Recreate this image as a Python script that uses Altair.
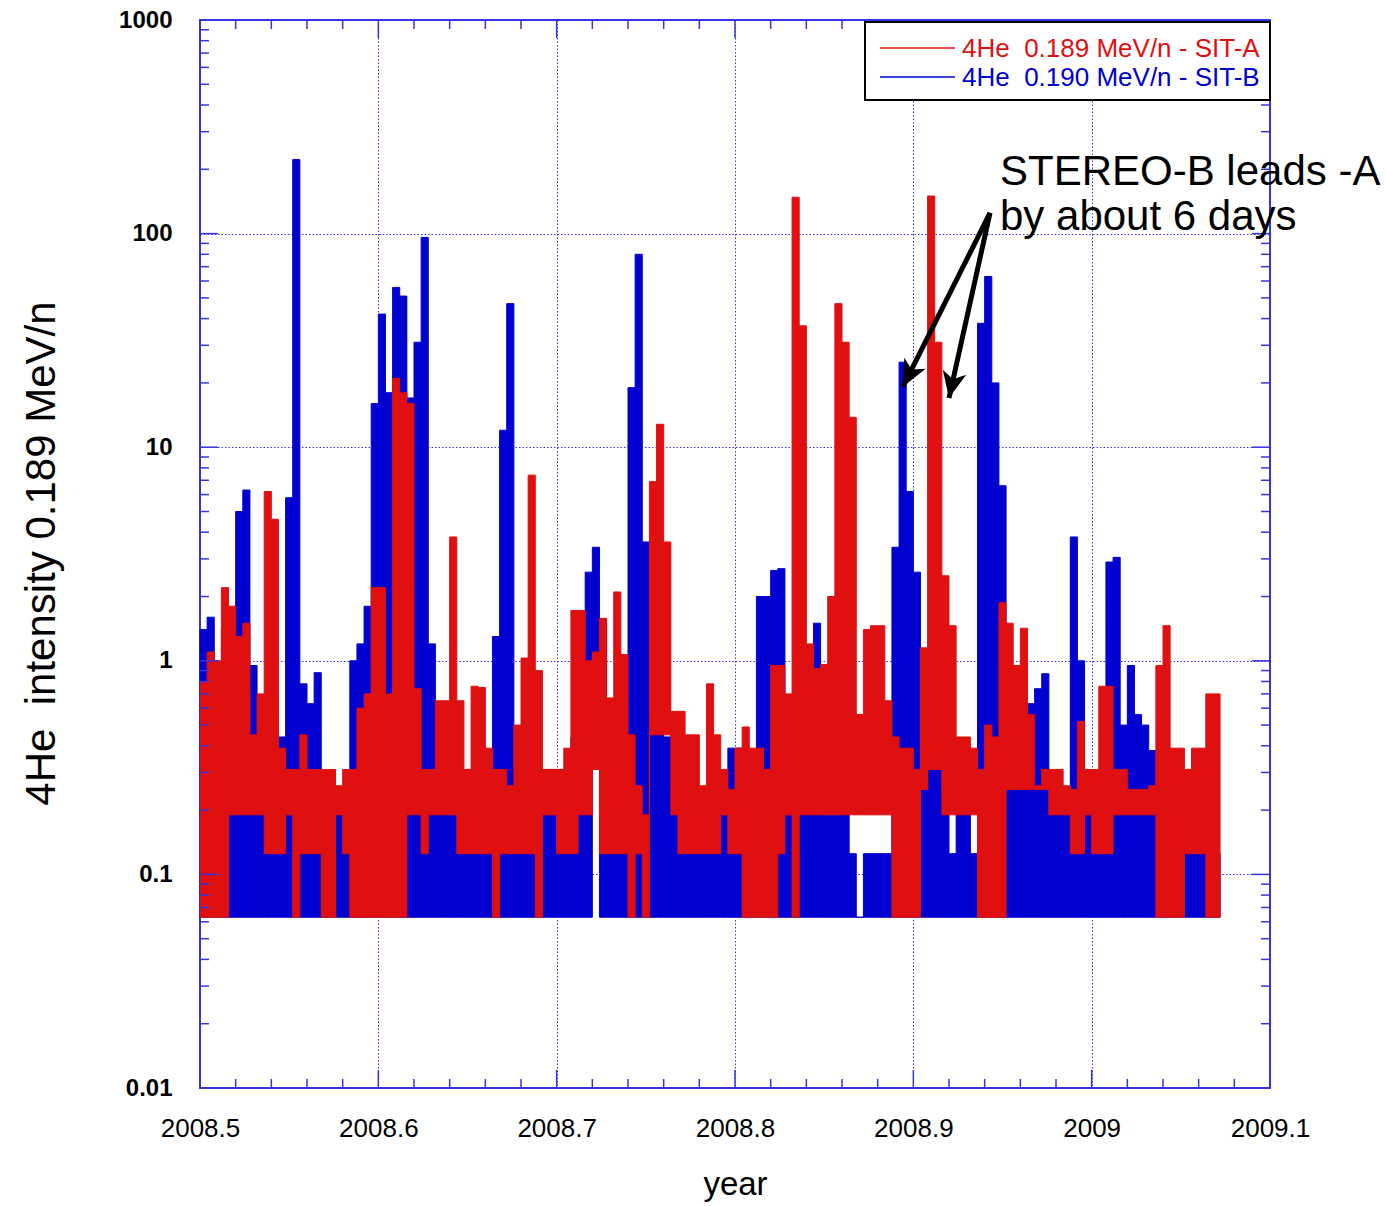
import altair as alt
import pandas as pd

# Sample bins: 0.004 yr each, starting at 2008.5
T0 = 2008.5
STEP = 0.004

# SIT-B 4He 0.190 MeV/n: upper / lower envelope per bin
sitb_hi = [
    1.4, 1.6, 0.95, 1.4, 1.1, 5.0, 6.3, 0.95, 0.63, 0.63,
    0.55, 0.44, 5.8, 222, 0.78, 0.63, 0.88, 0.19, 0.25, 0.19,
    0.19, 1.0, 1.2, 1.8, 16, 42, 18, 56, 51, 17,
    31, 96, 1.2, 0.31, 0.31, 0.19, 0.25, 0.31, 0.25, 0.25,
    0.19, 1.3, 12, 47, 0.31, 0.25, 0.19, 0.25, 0.31, 0.31,
    0.31, 0.26, 0.44, 0.78, 2.6, 3.4, 1.5, 0.26, 0.26, 0.26,
    19, 80, 3.6, 0.6, 0.5, 0.44, 0.5, 0.3, 0.19, 0.19,
    0.125, 0.25, 0.19, 0.19, 0.39, 0.39, 0.25, 0.31, 2.0, 2.0,
    2.65, 2.7, 0.31, 0.25, 0.31, 0.56, 1.5, 0.19, 0.19, 0.19,
    0.38, 0.125, 0.063, 0.125, 0.125, 0.125, 0.125, 3.4, 25, 6.2,
    2.6, 0.87, 0.31, 0.31, 0.25, 0.125, 0.25, 0.25, 0.125, 38,
    63, 20, 6.6, 0.7, 0.31, 0.31, 0.63, 0.74, 0.87, 0.26,
    0.25, 0.25, 3.8, 1.0, 0.25, 0.25, 0.125, 2.9, 3.05, 0.5,
    0.95, 0.56, 0.5, 0.38, 0.19, 0.25, 0.19, 0.19, 0.125, 0.125,
    0.125, 0.125, 0.125,
]
sitb_lo = [0.063] * 55 + [0.31] + [0.063] * 87

# SIT-A 4He 0.189 MeV/n: upper / lower envelope per bin
sita_hi = [
    0.8, 1.1, 1.0, 2.2, 1.8, 1.3, 1.5, 0.45, 0.7, 6.2,
    4.6, 0.39, 0.31, 0.31, 0.45, 0.31, 0.31, 0.31, 0.31, 0.26,
    0.31, 0.31, 0.6, 0.7, 2.2, 2.2, 0.7, 21, 18, 16,
    0.74, 0.31, 0.31, 0.65, 0.65, 3.8, 0.65, 0.31, 0.76, 0.75,
    0.39, 0.31, 0.31, 0.26, 0.5, 1.03, 7.4, 0.9, 0.31, 0.31,
    0.31, 0.39, 1.72, 1.72, 1.0, 1.1, 1.58, 0.67, 2.1, 1.07,
    0.45, 0.26, 0.19, 6.9, 12.8, 3.6, 0.58, 0.58, 0.45, 0.45,
    0.26, 0.78, 0.45, 0.31, 0.25, 0.39, 0.49, 0.39, 0.39, 0.31,
    0.95, 0.95, 0.7, 148, 37, 1.2, 0.92, 0.96, 2.0, 47,
    31, 13.8, 0.56, 1.4, 1.46, 1.46, 0.65, 0.44, 0.39, 0.39,
    0.31, 1.15, 150, 31, 2.5, 1.46, 0.44, 0.44, 0.39, 0.31,
    0.5, 0.44, 1.87, 1.5, 0.95, 1.42, 0.56, 0.26, 0.31, 0.31,
    0.31, 0.26, 0.25, 0.52, 0.31, 0.31, 0.76, 0.76, 0.31, 0.31,
    0.25, 0.25, 0.25, 0.26, 0.95, 1.46, 0.39, 0.39, 0.31, 0.39,
    0.39, 0.7, 0.7,
]
sita_lo = [
    .063, .063, .063, .063, .19, .19, .19, .19, .19, .125,
    .125, .125, .19, .063, .125, .125, .125, .063, .063, .19,
    .125, .063, .063, .063, .063, .063, .063, .063, .063, .19,
    .19, .125, .19, .19, .19, .19, .125, .125, .125, .125,
    .125, .063, .125, .125, .125, .125, .125, .063, .19, .19,
    .125, .125, .125, .19, .19, .31, .125, .125, .125, .125,
    .063, .125, .063, .45, .45, .45, .19, .125, .125, .125,
    .125, .125, .125, .19, .125, .125, .063, .063, .063, .063,
    .063, .125, .19, .063, .19, .19, .19, .19, .19, .19,
    .19, .19, .19, .19, .19, .19, .19, .063, .063, .063,
    .063, .25, .31, .31, .19, .19, .19, .19, .19, .063,
    .063, .063, .063, .25, .25, .25, .25, .25, .25, .19,
    .19, .19, .125, .125, .19, .125, .125, .125, .19, .19,
    .19, .19, .19, .19, .063, .063, .063, .063, .125, .125,
    .125, .063, .063,
]

legend_labels = ["4He\u00a0 0.189 MeV/n - SIT-A", "4He\u00a0 0.190 MeV/n - SIT-B"]
note_lines = ["STEREO-B leads -A", "by about 6 days"]

RED = "#e01010"
BLUE = "#0000d0"
FRAME = "#3535e0"
FONT = "Liberation Sans"
W, H = 1070, 1068


def series_frame(hi, lo):
    n = len(hi)
    t = [T0 + STEP * k for k in range(n + 1)]
    return pd.DataFrame({"t": t, "hi": hi + [hi[-1]], "lo": lo + [lo[-1]]})


df_b = series_frame(sitb_hi, sitb_lo)
df_a = series_frame(sita_hi, sita_lo)

xscale = alt.Scale(domain=[2008.5, 2009.1], nice=False, zero=False)
yscale = alt.Scale(type="log", domain=[0.01, 1000], nice=False)

xaxis = alt.Axis(
    values=[2008.5, 2008.6, 2008.7, 2008.8, 2008.9, 2009.0, 2009.1],
    format="~f", title="year", grid=True, gridColor=FRAME, gridDash=[1.5, 2],
    gridWidth=1, ticks=False, domain=False, labelFont=FONT, labelFontSize=26,
    labelColor="black", labelPadding=27, labelFlush=False, labelOverlap=False,
    titleFont=FONT, titleFontSize=33, titleFontWeight="normal", titleColor="black",
    titleX=535, titleY=106, titleBaseline="alphabetic",
)
yaxis = alt.Axis(
    values=[0.01, 0.1, 1, 10, 100, 1000], format="~g",
    title="4He\u00a0 intensity 0.189 MeV/n", grid=True, gridColor=FRAME,
    gridDash=[1.5, 2], gridWidth=1, ticks=False, domain=False, labelFont=FONT,
    labelFontSize=24, labelFontWeight="bold", labelColor="black", labelPadding=28,
    labelFlush=False, labelOverlap=False, titleFont=FONT, titleFontSize=42,
    titleFontWeight="normal", titleColor="black", titleX=-146, titleY=533,
    titleBaseline="alphabetic",
)


def X(field):
    return alt.X(field, scale=xscale, axis=xaxis)


def Y(field):
    return alt.Y(field, scale=yscale, axis=yaxis)


blue = alt.Chart(df_b).mark_area(
    interpolate="step-after", color=BLUE, stroke=BLUE, strokeWidth=1
).encode(x=X("t:Q"), y=Y("hi:Q"), y2="lo:Q")
red = alt.Chart(df_a).mark_area(
    interpolate="step-after", color=RED, stroke=RED, strokeWidth=1
).encode(x=X("t:Q"), y=Y("hi:Q"), y2="lo:Q")

# Inward tick marks on all four sides
xt_major = pd.DataFrame({"t": [2008.5 + 0.1 * i for i in range(7)]})
xt_minor = pd.DataFrame({"t": [2008.5 + 0.02 * i for i in range(31) if i % 5]})
yt_major = pd.DataFrame({"hi": [10.0 ** e for e in range(-2, 4)]})
yt_minor = pd.DataFrame({"hi": [m * 10.0 ** e for e in range(-2, 3) for m in range(2, 10)]})


def xticks(frame, length):
    bottom = alt.Chart(frame).mark_rule(color=FRAME, strokeWidth=1.5).encode(
        x=X("t:Q"), y=alt.value(H), y2=alt.value(H - length))
    top = alt.Chart(frame).mark_rule(color=FRAME, strokeWidth=1.5).encode(
        x=X("t:Q"), y=alt.value(0), y2=alt.value(length))
    return [bottom, top]


def yticks(frame, length):
    left = alt.Chart(frame).mark_rule(color=FRAME, strokeWidth=1.5).encode(
        y=Y("hi:Q"), x=alt.value(0), x2=alt.value(length))
    right = alt.Chart(frame).mark_rule(color=FRAME, strokeWidth=1.5).encode(
        y=Y("hi:Q"), x=alt.value(W - length), x2=alt.value(W))
    return [left, right]


ticks = xticks(xt_major, 18) + xticks(xt_minor, 9) + yticks(yt_major, 18) + yticks(yt_minor, 9)

# Legend box
one = alt.Data(values=[{"k": 1}])
legend_box = alt.Chart(one).mark_rect(fill="white", stroke="black", strokeWidth=2).encode(
    x=alt.value(665), x2=alt.value(1070), y=alt.value(2), y2=alt.value(80))
legend_items = []
for label, col, py in zip(legend_labels, [RED, BLUE], [28, 57]):
    legend_items.append(alt.Chart(one).mark_rule(color=col, strokeWidth=1.5).encode(
        x=alt.value(680), x2=alt.value(755), y=alt.value(py)))
    legend_items.append(alt.Chart(one).mark_text(
        text=label, align="left", baseline="middle", font=FONT, fontSize=26, color=col
    ).encode(x=alt.value(762), y=alt.value(py + 1)))

# Annotation: text and two arrows
note_df = pd.DataFrame({"t": [2008.9486, 2008.9486], "hi": [169, 104], "txt": note_lines})
note = alt.Chart(note_df).mark_text(
    align="left", baseline="alphabetic", font=FONT, fontSize=42, color="black"
).encode(x=X("t:Q"), y=Y("hi:Q"), text="txt:N")

arrow_df = pd.DataFrame({
    "t": [2008.943, 2008.943], "hi": [125, 125],
    "t1": [2008.8942, 2008.920], "v1": [19.2, 17.0],
    "ang": [207, 192],
})
shafts = alt.Chart(arrow_df).mark_rule(color="black", strokeWidth=5).encode(
    x=X("t:Q"), y=Y("hi:Q"), x2="t1:Q", y2="v1:Q",
)
heads = alt.Chart(arrow_df).mark_point(
    shape="M0,0L-0.5,1.1L0,0.8L0.5,1.1Z", filled=True, color="black",
    opacity=1, size=2300, strokeWidth=0,
).encode(x=X("t1:Q"), y=Y("v1:Q"), angle=alt.Angle("ang:Q", scale=None))

chart = alt.layer(
    blue, red, *ticks, legend_box, *legend_items, shafts, heads, note
).properties(
    width=W, height=H,
    autosize=alt.AutoSizeParams(type="none"),
    padding={"left": 200, "top": 20, "right": 116, "bottom": 118},
).configure_view(stroke=FRAME, strokeWidth=2)

chart.save("out.html", embed_options={"renderer": "svg", "actions": False})
